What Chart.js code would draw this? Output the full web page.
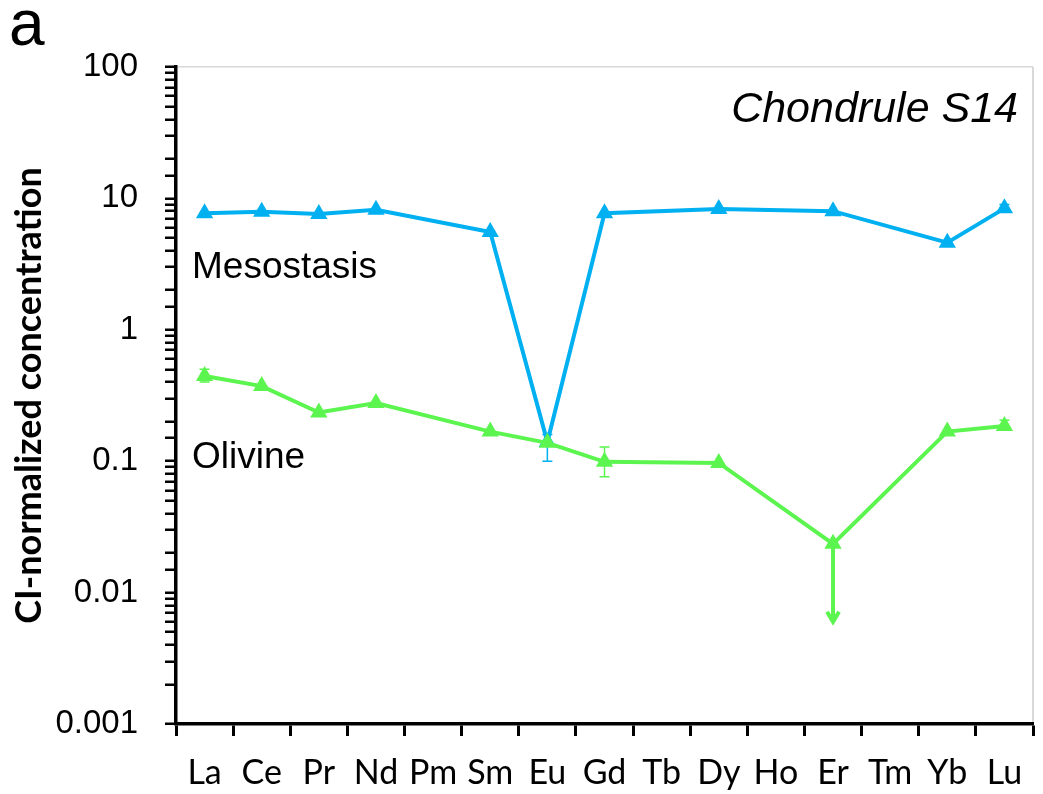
<!DOCTYPE html>
<html>
<head>
<meta charset="utf-8">
<script src="https://cdn.jsdelivr.net/npm/chart.js@4/dist/chart.umd.min.js"></script>
<style>
  html, body { margin: 0; padding: 0; background: #fff; overflow: hidden; }
  #box { width: 1043px; height: 794px; }
  canvas { display: block; }
</style>
</head>
<body>
<div id="box"><canvas id="grafico"></canvas></div>
<script>
  // elementos (REE)
  const elementos = ["La", "Ce", "Pr", "Nd", "Pm", "Sm", "Eu", "Gd", "Tb", "Dy", "Ho", "Er", "Tm", "Yb", "Lu"];

  // mesostasis
  const meso = [7.7, 7.9, 7.6, 8.2, null, 5.55, 0.14, 7.7, null, 8.3, null, 8.0, null, 4.6, 8.4];
  const mesoErrLow = [null, null, null, null, null, null, 0.10, null, null, null, null, null, null, null, 7.9];
  const mesoErrHigh = [null, null, null, null, null, null, 0.16, null, null, null, null, null, null, null, 9.0];

  // olivine
  const olivina = [0.445, 0.373, 0.235, 0.277, null, 0.168, 0.138, 0.099, null, 0.097, null, 0.0235, null, 0.168, 0.185];
  const olivErrLow = [0.40, null, null, null, null, null, null, 0.076, null, null, null, null, null, null, 0.172];
  const olivErrHigh = [0.50, null, null, null, null, null, null, 0.128, null, null, null, null, null, null, 0.205];
  // limite superior (seta) no Er, a seta desce ate este valor
  const olivLimite = [null, null, null, null, null, null, null, null, null, null, null, 0.006, null, null, null];

  const yTicks = [100, 10, 1, 0.1, 0.01, 0.001];

  const azul = "#00B0F0";
  const verde = "#5CF54F";

  const errosPlugin = {
    id: "erros",
    beforeDatasetsDraw(chart) {
      const ctx = chart.ctx;
      const x = chart.scales.x;
      const y = chart.scales.y;
      const series = [
        { low: mesoErrLow, high: mesoErrHigh, cor: azul },
        { low: olivErrLow, high: olivErrHigh, cor: verde },
      ];
      ctx.save();
      ctx.lineWidth = 1.5;
      series.forEach((s) => {
        ctx.strokeStyle = s.cor;
        for (let i = 0; i < elementos.length; i++) {
          if (s.low[i] == null) continue;
          const px = x.getPixelForValue(i);
          const y1 = y.getPixelForValue(s.low[i]);
          const y2 = y.getPixelForValue(s.high[i]);
          ctx.beginPath();
          ctx.moveTo(px, y1); ctx.lineTo(px, y2);
          ctx.moveTo(px - 5, y1); ctx.lineTo(px + 5, y1);
          ctx.moveTo(px - 5, y2); ctx.lineTo(px + 5, y2);
          ctx.stroke();
        }
      });
      // seta
      ctx.strokeStyle = verde;
      ctx.lineWidth = 4;
      for (let i = 0; i < elementos.length; i++) {
        if (olivLimite[i] == null) continue;
        const px = x.getPixelForValue(i);
        const y1 = y.getPixelForValue(olivina[i]);
        const y2 = y.getPixelForValue(olivLimite[i]);
        ctx.beginPath();
        ctx.moveTo(px, y1); ctx.lineTo(px, y2);
        ctx.moveTo(px - 6, y2 - 10); ctx.lineTo(px, y2); ctx.lineTo(px + 6, y2 - 10);
        ctx.stroke();
      }
      ctx.restore();
    },
    afterDraw(chart) {
      const ctx = chart.ctx;
      const area = chart.chartArea;
      ctx.save();
      // borda direita cinza
      ctx.strokeStyle = "#d9d9d9";
      ctx.lineWidth = 2;
      ctx.beginPath();
      ctx.moveTo(area.right, area.top);
      ctx.lineTo(area.right, area.bottom - 2);
      ctx.stroke();

      ctx.fillStyle = "#000";
      ctx.textBaseline = "alphabetic";
      ctx.textAlign = "left";
      ctx.font = "64px 'Liberation Sans', Arial, sans-serif";
      ctx.fillText("a", 9, 45);
      ctx.font = "37px 'Liberation Sans', Arial, sans-serif";
      ctx.fillText("Mesostasis", 192, 278);
      ctx.fillText("Olivine", 192, 468);
      ctx.textAlign = "right";
      ctx.font = "italic 43px 'Liberation Sans', Arial, sans-serif";
      ctx.fillText("Chondrule S14", 1018, 122);
      ctx.restore();
    },
  };

  const grafico = document.getElementById("grafico").getContext("2d");

  const chartGrafico = new Chart(grafico, {
    type: "line",
    data: {
      labels: elementos,
      datasets: [
        {
          label: "Mesostasis",
          data: meso,
          borderColor: azul,
          backgroundColor: azul,
          borderWidth: 4,
          pointStyle: "triangle",
          pointRadius: 10,
          pointBorderWidth: 0,
          spanGaps: true,
          order: 2,
        },
        {
          label: "Olivine",
          data: olivina,
          borderColor: verde,
          backgroundColor: verde,
          borderWidth: 4,
          pointStyle: "triangle",
          pointRadius: 10,
          pointBorderWidth: 0,
          spanGaps: true,
          order: 1,
        },
      ],
    },
    options: {
      responsive: true,
      maintainAspectRatio: false,
      animation: false,
      layout: { padding: { top: 67, right: -2, left: 0, bottom: 0 } },
      plugins: {
        legend: { display: false },
        tooltip: { enabled: false },
      },
      scales: {
        x: {
          type: "category",
          offset: true,
          grid: {
            offset: true,
            drawOnChartArea: false,
            tickLength: 12,
            tickWidth: 3,
            tickColor: "#000",
          },
          border: { display: true, color: "#000", width: 3.5 },
          ticks: {
            color: "#000",
            padding: 17,
            maxRotation: 0,
            autoSkip: false,
            font: { family: "Lato, 'Open Sans', sans-serif", size: 34 },
          },
          afterFit(scale) {
            scale.height = 70;
            scale.paddingLeft = 0;
            scale.paddingRight = 0;
          },
        },
        y: {
          type: "logarithmic",
          min: 0.001,
          max: 100,
          grid: {
            drawOnChartArea: true,
            color: (c) => (c.tick && c.tick.value === 100 ? "#d9d9d9" : "rgba(0,0,0,0)"),
            lineWidth: 1.5,
            tickColor: "#000",
            tickWidth: 2.5,
            tickLength: 11,
          },
          border: { display: true, color: "#000", width: 3.5 },
          ticks: {
            color: "#000",
            autoSkip: false,
            padding: 27,
            font: { family: "'Liberation Sans', Arial, sans-serif", size: 33 },
            callback: (v) => {
              const ok = yTicks.some((t) => Math.abs(t - v) / t < 1e-6);
              return ok ? String(v) : "";
            },
          },
          title: {
            display: true,
            text: "CI-normalized concentration",
            color: "#000",
            padding: { top: 8, bottom: 0 },
            font: { family: "Lato, 'Open Sans', sans-serif", size: 36, weight: "bold" },
          },
          afterFit(scale) { scale.width = 176; },
        },
      },
    },
    plugins: [errosPlugin],
  });
</script>
</body>
</html>
